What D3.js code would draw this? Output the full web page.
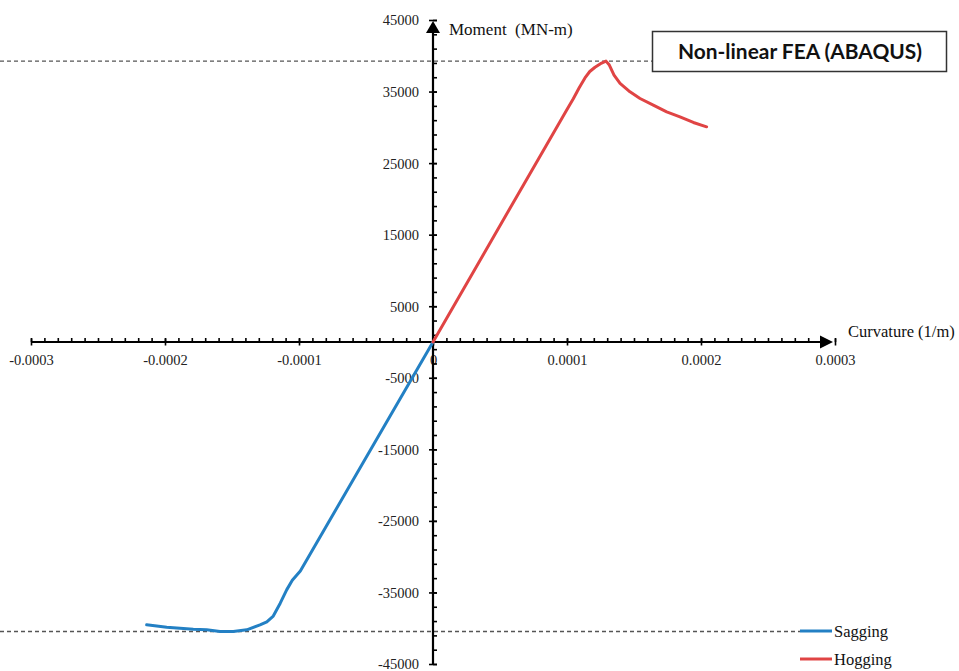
<!DOCTYPE html>
<html>
<head>
<meta charset="utf-8">
<script src="https://cdn.jsdelivr.net/npm/d3@7"></script>
<style>
  html, body { margin: 0; padding: 0; background: #fff; }
  svg { display: block; }
</style>
</head>
<body>
<svg id="chart" width="959" height="671"></svg>
<script>
// Moment–curvature response from non-linear FEA
// Curvature in 1/m, bending moment in MN-m
const hoggingCurvature = [0, 0.0000843, 0.000100, 0.0001047, 0.0001090, 0.0001134, 0.0001170, 0.0001209, 0.0001250,
  0.0001291, 0.0001316, 0.0001351, 0.0001396, 0.0001470, 0.0001545, 0.0001644, 0.0001744, 0.0001843, 0.0001943, 0.0002042];
const hoggingMoment = [0, 27400, 32500, 34000, 35500, 36900, 37800, 38400, 38900,
  39250, 38700, 37300, 36130, 34960, 34030, 33100, 32160, 31470, 30680, 30070];

const saggingCurvature = [0, -0.0000990, -0.0001050, -0.0001092, -0.0001140, -0.0001192, -0.0001240, -0.0001291,
  -0.0001390, -0.0001490, -0.0001590, -0.0001689, -0.0001789, -0.0001888, -0.0001987, -0.0002137];
const saggingMoment = [0, -32000, -33300, -34640, -36500, -38300, -39100, -39530,
  -40220, -40460, -40460, -40220, -40130, -39990, -39850, -39530];

const seriesNames = ["Sagging", "Hogging"];
const seriesColors = ["#2380c4", "#e04444"];

const xMinorTicks = d3.range(-30, 31).map(i => i * 1e-5);
const xMajorTicks = [-0.0003, -0.0002, -0.0001, 0, 0.0001, 0.0002, 0.0003];
const xTickLabels = ["-0.0003", "-0.0002", "-0.0001", "0", "0.0001", "0.0002", "0.0003"];

const yMinorTicks = d3.range(-45000, 45001, 2000);
const yMajorTicks = [45000, 35000, 25000, 15000, 5000, -5000, -15000, -25000, -35000, -45000];
const yTickLabels = ["45000", "35000", "25000", "15000", "5000", "-5000", "-15000", "-25000", "-35000", "-45000"];

const titleText = "Non-linear FEA (ABAQUS)";
const xAxisTitle = "Curvature (1/m)";
const yAxisTitle = "Moment  (MN-m)";

const svg = d3.select("#chart");
const serif = "'Liberation Serif', 'Times New Roman', serif";

const x = d3.scaleLinear().domain([-0.0003, 0.0003]).range([31, 835]);
const y = d3.scaleLinear().domain([-45000, 45000]).range([664, 20]);
const x0 = x(0), y0 = y(0);

// Dashed reference lines at the peak hogging and sagging moments
const peakHog = d3.max(hoggingMoment);
const peakSag = d3.min(saggingMoment);
svg.append("line")
  .attr("x1", 0).attr("x2", 652).attr("y1", y(peakHog)).attr("y2", y(peakHog))
  .attr("stroke", "#555").attr("stroke-width", 1.3).attr("stroke-dasharray", "4,3");
svg.append("line")
  .attr("x1", 0).attr("x2", 800).attr("y1", y(peakSag)).attr("y2", y(peakSag))
  .attr("stroke", "#555").attr("stroke-width", 1.3).attr("stroke-dasharray", "4,3");

// X axis: minor ticks above, major ticks crossing
const xMinor = svg.append("g").attr("transform", `translate(0,${y0})`)
  .call(d3.axisTop(x).tickValues(xMinorTicks).tickSize(4).tickFormat(""));
xMinor.select(".domain").remove();
xMinor.selectAll(".tick line").attr("stroke", "#000").attr("stroke-width", 1.6);

const xMajor = svg.append("g").attr("transform", `translate(0,${y0})`)
  .call(d3.axisBottom(x).tickValues(xMajorTicks).tickSize(4).tickPadding(0)
    .tickFormat((d, i) => xTickLabels[i]));
xMajor.select(".domain").remove();
xMajor.selectAll(".tick line").attr("y1", -3.5).attr("y2", 3.5).attr("stroke", "#000").attr("stroke-width", 1.6);
xMajor.selectAll(".tick text")
  .attr("y", 23).attr("dy", 0)
  .attr("font-family", serif).attr("font-size", 14.5).attr("fill", "#222");

// Y axis: minor ticks to the right, major ticks crossing
const yMinor = svg.append("g").attr("transform", `translate(${x0},0)`)
  .call(d3.axisRight(y).tickValues(yMinorTicks).tickSize(4).tickFormat(""));
yMinor.select(".domain").remove();
yMinor.selectAll(".tick line").attr("stroke", "#000").attr("stroke-width", 1.6);

const yMajor = svg.append("g").attr("transform", `translate(${x0},0)`)
  .call(d3.axisLeft(y).tickValues(yMajorTicks).tickSize(4)
    .tickFormat((d, i) => yTickLabels[i]));
yMajor.select(".domain").remove();
yMajor.selectAll(".tick line").attr("x1", -4).attr("x2", 4).attr("stroke", "#000").attr("stroke-width", 1.6);
yMajor.selectAll(".tick text")
  .attr("x", -14).attr("dy", "0.34em")
  .attr("font-family", serif).attr("font-size", 14.5).attr("fill", "#222");

// Axis lines with arrowheads
svg.append("line").attr("x1", x(-0.0003)).attr("x2", 830).attr("y1", y0).attr("y2", y0)
  .attr("stroke", "#000").attr("stroke-width", 2.2);
svg.append("path").attr("d", `M833,${y0} L820,${y0 - 6.5} L820,${y0 + 6.5} Z`).attr("fill", "#000");
svg.append("line").attr("x1", x0).attr("x2", x0).attr("y1", y(-45000)).attr("y2", 24)
  .attr("stroke", "#000").attr("stroke-width", 2.2);
svg.append("path").attr("d", `M${x0},21 L${x0 - 7},33 L${x0 + 7},33 Z`).attr("fill", "#000");

// Axis titles
svg.append("text").attr("x", 449).attr("y", 34.5)
  .attr("font-family", serif).attr("font-size", 17).attr("fill", "#111")
  .attr("xml:space", "preserve").style("white-space", "pre").text(yAxisTitle);
svg.append("text").attr("x", 848).attr("y", 336.5)
  .attr("font-family", serif).attr("font-size", 16.5).attr("fill", "#111").text(xAxisTitle);

// Curves
const line = d3.line().x(d => x(d[0])).y(d => y(d[1]));
const sagging = saggingCurvature.map((c, i) => [c, saggingMoment[i]]);
const hogging = hoggingCurvature.map((c, i) => [c, hoggingMoment[i]]);
svg.append("path").datum(sagging).attr("d", line)
  .attr("fill", "none").attr("stroke", seriesColors[0]).attr("stroke-width", 3)
  .attr("stroke-linejoin", "round").attr("stroke-linecap", "round");
svg.append("path").datum(hogging).attr("d", line)
  .attr("fill", "none").attr("stroke", seriesColors[1]).attr("stroke-width", 3)
  .attr("stroke-linejoin", "round").attr("stroke-linecap", "round");

// Title box
svg.append("rect").attr("x", 652.5).attr("y", 31.5).attr("width", 294).attr("height", 40)
  .attr("fill", "#fff").attr("stroke", "#333").attr("stroke-width", 1.5);
svg.append("text").attr("x", 800).attr("y", 58.5).attr("text-anchor", "middle")
  .attr("font-family", "Lato, 'Open Sans', sans-serif").attr("font-weight", "bold")
  .attr("font-size", 20).attr("fill", "#111")
  .attr("textLength", 244).attr("lengthAdjust", "spacingAndGlyphs")
  .text(titleText);

// Legend
const legend = svg.append("g");
seriesNames.forEach((name, i) => {
  const ly = 631 + i * 28;
  legend.append("line").attr("x1", 800).attr("x2", 832).attr("y1", ly).attr("y2", ly)
    .attr("stroke", seriesColors[i]).attr("stroke-width", 3);
  legend.append("text").attr("x", 834).attr("y", ly + 5.5)
    .attr("font-family", serif).attr("font-size", 16.5).attr("fill", "#111").text(name);
});
</script>
</body>
</html>
